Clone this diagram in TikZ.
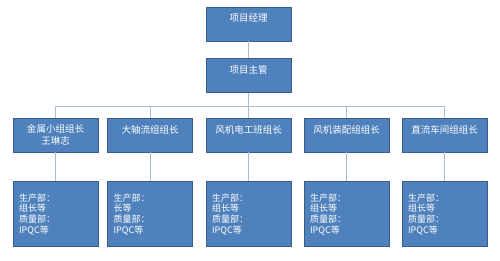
\documentclass[tikz,border=0pt]{standalone}
\usepackage{fontspec}
\setmainfont{Noto Sans CJK SC}
\usepackage{xcolor}
\usepackage{tikz}
\usetikzlibrary{positioning,calc}

\definecolor{boxfill}{HTML}{4F81BD}
\definecolor{boxedge}{HTML}{385D8A}
\definecolor{linkgray}{HTML}{A9BCD4}

\begin{document}
\begin{tikzpicture}[
    x=1pt, y=1pt,
    node distance=17pt,
    unit/.style={draw=boxedge, fill=boxfill, line width=0.8pt, text=white, minimum width=85pt, minimum height=34pt, inner sep=0pt, align=center, font=\fontsize{9.5}{12}\selectfont},
    single/.style={unit, text height=8pt, text depth=12pt},
    staff/.style={draw=boxedge, fill=boxfill, line width=0.8pt, text=white, minimum width=85pt, minimum height=65pt, text width=73pt, inner xsep=6pt, align=left, font=\fontsize{9}{10.7}\selectfont},
    link/.style={draw=linkgray, line width=0.9pt}
]
    \useasboundingbox (0,0) rectangle (500,260);

    % Management
    \node [single] at (248.5,236) (mgr) {项目经理};
    \node [single, below=of mgr] (sup) {项目主管};

    % Team leaders
    \node [unit] at (55.5,125) (lead1) {金属小组组长\\王琳志};
    \node [single] at (150,125) (lead2) {大轴流组组长};
    \node [single] at (248.5,125) (lead3) {风机电工班组长};
    \node [single] at (346.5,125) (lead4) {风机装配组组长};
    \node [single] at (444.5,125) (lead5) {直流车间组组长};

    % Departments
    \node [staff, below=29pt of lead1] (staff1) {生产部：\\组长等\\质量部：\\IPQC等};
    \node [staff, below=29pt of lead2] (staff2) {生产部：\\长等\\质量部：\\IPQC等};
    \node [staff, below=29pt of lead3] (staff3) {生产部：\\组长等\\质量部：\\IPQC等};
    \node [staff, below=29pt of lead4] (staff4) {生产部：\\组长等\\质量部：\\IPQC等};
    \node [staff, below=29pt of lead5] (staff5) {生产部：\\组长等\\质量部：\\IPQC等};

    % Connections
    \coordinate (bus) at (248.5,154);
    \draw [link] (mgr) -- (sup);
    \draw [link] (sup) -- (bus);
    \draw [link] (bus) -| (lead1.north);
    \draw [link] (bus) -| (lead2.north);
    \draw [link] (bus) -- (lead3.north);
    \draw [link] (bus) -| (lead4.north);
    \draw [link] (bus) -| (lead5.north);

    \draw [link] (lead1) -- (staff1);
    \draw [link] (lead2) -- (staff2);
    \draw [link] (lead3) -- (staff3);
    \draw [link] (lead4) -- (staff4);
    \draw [link] (lead5) -- (staff5);

\end{tikzpicture}
\end{document}
